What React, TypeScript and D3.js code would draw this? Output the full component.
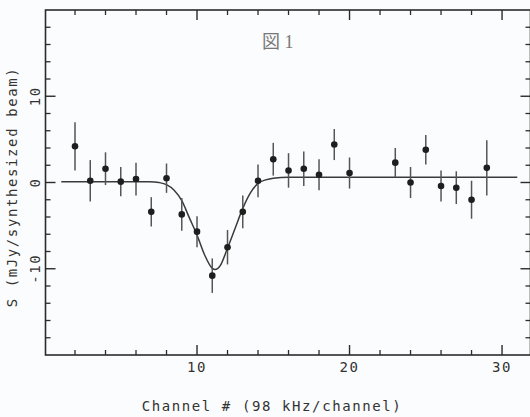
import React from 'react';
import * as d3 from 'd3';

// measured channels (98 kHz each), flux and 1-sigma errors
const channels = [2, 3, 4, 5, 6, 7, 8, 9, 10, 11, 12, 13, 14, 15, 16, 17, 18, 19, 20, 23, 24, 25, 26, 27, 28, 29];
const flux = [4.2, 0.2, 1.6, 0.1, 0.4, -3.4, 0.5, -3.7, -5.7, -10.8, -7.5, -3.4, 0.2, 2.7, 1.4, 1.6, 0.9, 4.4, 1.1, 2.3, 0.0, 3.8, -0.4, -0.6, -2.0, 1.7];
const errors = [2.8, 2.4, 1.9, 1.7, 1.9, 1.7, 1.7, 1.9, 1.8, 2.0, 2.0, 1.9, 1.9, 1.9, 2.0, 2.0, 1.8, 1.8, 1.8, 1.7, 1.8, 1.7, 1.8, 1.9, 2.2, 3.2];

// fitted line
const fitChannels = [1.1, 4, 6.9, 7.5, 8, 8.5, 9, 9.5, 10, 10.5, 11, 11.2, 11.5, 12, 12.5, 13, 13.5, 14, 14.5, 15, 16, 31];
const fitFlux = [0.1, 0.1, 0.1, 0.0, -0.25, -0.9, -2.1, -4.1, -6.1, -8.4, -9.95, -10.1, -9.7, -7.6, -5.3, -3.0, -1.2, -0.1, 0.3, 0.5, 0.6, 0.6];

const xMajor = [10, 20, 30];
const xMinor = [2, 4, 6, 8, 12, 14, 16, 18, 22, 24, 26, 28];
const yMajor = [-10, 0, 10];
const yMinor = [-18, -16, -14, -12, -8, -6, -4, -2, 2, 4, 6, 8, 12, 14, 16, 18];

const W = 530;
const H = 417;
const ink = '#2b2b2b';
const mono = "'DejaVu Sans Mono', monospace";

export default function App() {
  const x = d3.scaleLinear().domain([0, 31.8]).range([44.5, 529.5]);
  const y = d3.scaleLinear().domain([-20, 20]).range([355, 10]);
  const left = x(0) + 1;
  const right = x(31.8) + 1;
  const top = y(20);
  const bottom = y(-20);

  const line = d3
    .line<number>()
    .x((_, i) => x(fitChannels[i]))
    .y((d) => y(d))
    .curve(d3.curveMonotoneX);

  const labelStyle = { fontFamily: mono, fontSize: 14, letterSpacing: 1.6, fill: '#333' };

  return (
    <svg width={W} height={H} style={{ position: 'absolute', left: 0, top: 0, background: '#fbfcfd' }}>
      {/* frame */}
      <rect x={left} y={top} width={right - left} height={bottom - top} fill="none" stroke={ink} strokeWidth={1.6} />

      {/* x ticks, bottom and top */}
      {xMinor.map((t) => (
        <g key={'xm' + t} stroke={ink} strokeWidth={1.3}>
          <line x1={x(t)} x2={x(t)} y1={bottom} y2={bottom - 5} />
          <line x1={x(t)} x2={x(t)} y1={top} y2={top + 5} />
        </g>
      ))}
      {xMajor.map((t) => (
        <g key={'xM' + t}>
          <line x1={x(t)} x2={x(t)} y1={bottom} y2={bottom - 10} stroke={ink} strokeWidth={1.4} />
          <line x1={x(t)} x2={x(t)} y1={top} y2={top + 10} stroke={ink} strokeWidth={1.4} />
          <text x={x(t)} y={372} textAnchor="middle" style={labelStyle}>
            {t}
          </text>
        </g>
      ))}

      {/* y ticks, left and right */}
      {yMinor.map((t) => (
        <g key={'ym' + t} stroke={ink} strokeWidth={1.3}>
          <line x1={left} x2={left + 5} y1={y(t)} y2={y(t)} />
          <line x1={right} x2={right - 5} y1={y(t)} y2={y(t)} />
        </g>
      ))}
      {yMajor.map((t) => (
        <g key={'yM' + t}>
          <line x1={left} x2={left + 10} y1={y(t)} y2={y(t)} stroke={ink} strokeWidth={1.4} />
          <line x1={right} x2={right - 10} y1={y(t)} y2={y(t)} stroke={ink} strokeWidth={1.4} />
          <text
            transform={`translate(40,${y(t)}) rotate(-90)`}
            textAnchor="middle"
            style={labelStyle}
          >
            {t}
          </text>
        </g>
      ))}

      {/* fit */}
      <path d={line(fitFlux) || ''} fill="none" stroke="#3a3a3a" strokeWidth={1.5} />

      {/* data with error bars */}
      {channels.map((c, i) => (
        <g key={'p' + c}>
          <line
            x1={x(c)}
            x2={x(c)}
            y1={y(flux[i] - errors[i])}
            y2={y(flux[i] + errors[i])}
            stroke="#555"
            strokeWidth={1.5}
          />
          <circle cx={x(c)} cy={y(flux[i])} r={3.3} fill="#1e1e1e" />
        </g>
      ))}

      {/* figure label */}
      <text x={262} y={48} style={{ fontFamily: "'Liberation Serif', 'Noto Sans CJK JP', serif", fontSize: 18, fill: '#777' }}>
        図 1
      </text>

      {/* axis titles */}
      <text x={272} y={411} textAnchor="middle" style={labelStyle}>
        Channel # (98 kHz/channel)
      </text>
      <text transform="translate(17,187) rotate(-90)" textAnchor="middle" style={labelStyle}>
        S (mJy/synthesized beam)
      </text>
    </svg>
  );
}
